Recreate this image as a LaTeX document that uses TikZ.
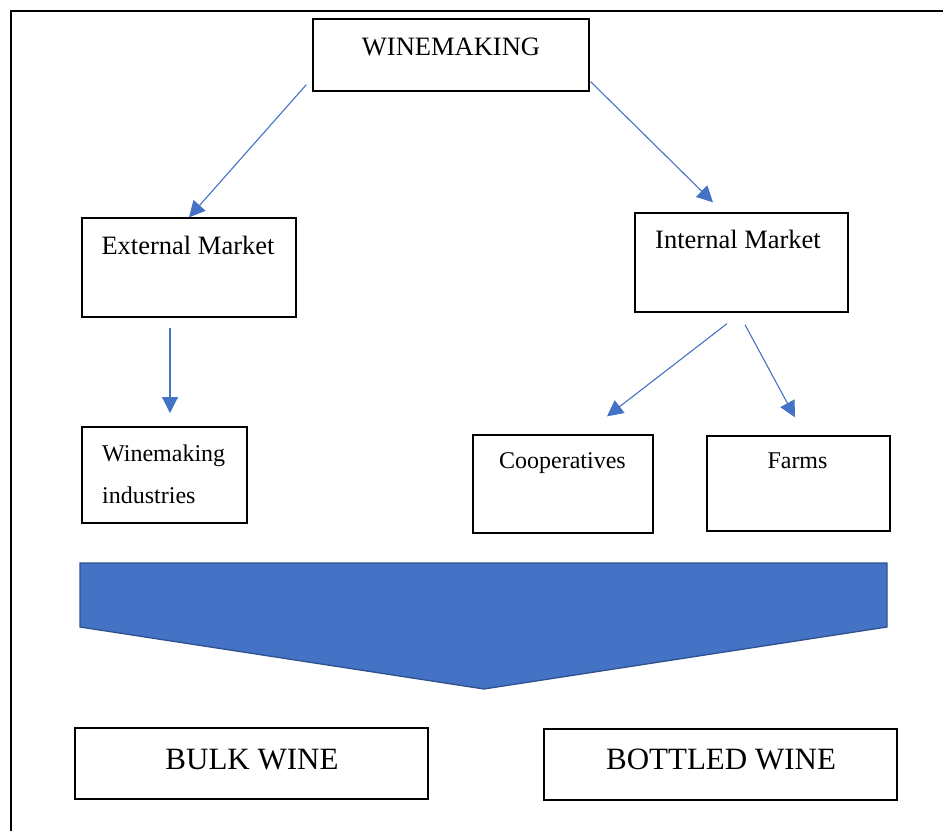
\documentclass[tikz,border=0pt]{standalone}
\usepackage{fontspec}
\setmainfont{Liberation Serif}
\usepackage{xcolor}
\usetikzlibrary{arrows.meta,calc}
\definecolor{wblue}{HTML}{4472C4}
\definecolor{wedge}{HTML}{2F528F}

\begin{document}
\begin{tikzpicture}[line join=miter,x=1pt,y=-1pt,
  box/.style={draw,line width=1.3pt,inner sep=0pt},
  bigtxt/.style={inner sep=0pt,anchor=base,font=\fontsize{26.5}{30}\selectfont},
  midtxt/.style={inner sep=0pt,anchor=base,font=\fontsize{24}{42}\selectfont},
  hugetxt/.style={inner sep=0pt,anchor=base,font=\fontsize{31}{36}\selectfont},
  arr/.style={draw=wblue,line width=1.1pt,-{Triangle[length=16pt,width=16pt]}}]
\useasboundingbox (0,0) rectangle (943,831);
\draw [line width=2pt] (11,831) -- (11,11) -- (943,11);
% boxes
\node[box,minimum width=276pt,minimum height=72pt] (win) at (451,55) {};
\node[box,minimum width=214pt,minimum height=99pt] (ext) at (189,267.5) {};
\node[box,minimum width=213pt,minimum height=99pt] (int) at (741.5,262.5) {};
\node[box,line width=2pt,minimum width=165pt,minimum height=96pt] (ind) at (164.5,475) {};
\node[box,minimum width=180pt,minimum height=98pt] (coop) at (563,484) {};
\node[box,minimum width=183pt,minimum height=95pt] (farm) at (798.5,483.5) {};
\node[box,minimum width=353pt,minimum height=71pt] (bulk) at (251.5,763.5) {};
\node[box,minimum width=353pt,minimum height=71pt] (bott) at (720.5,764.5) {};
% texts
\node[bigtxt] (winT) at (451,55) {WINEMAKING};
\node[bigtxt] (extT) at (188,254) {External Market};
\node[bigtxt] (intT) at (738,248) {Internal Market};
\node[midtxt,anchor=base west,align=left] (indT) at (102,503) {Winemaking\\industries};
\node[midtxt] (coopT) at (562.5,468) {Cooperatives};
\node[midtxt] (farmT) at (797.5,468) {Farms};
\node[hugetxt] (bulkT) at (252,769) {BULK WINE};
\node[hugetxt] (bottT) at (721,769) {BOTTLED WINE};
% arrows
\draw[arr] ([shift={(-6,-7)}]win.south west) -- (ext.north);
\draw[arr] ([shift={(1,-10)}]win.south east) -- ([shift={(-28.5,-10)}]int.north);
\draw[arr] ([shift={(-19,10)}]ext.south) -- ([shift={(5.5,-13)}]ind.north);
\draw[arr] ([shift={(-14.5,11)}]int.south) -- ([shift={(44,-18)}]coop.north);
\draw[arr] ([shift={(3.5,12)}]int.south) -- ([shift={(-3.5,-18)}]farm.north);
% big blue arrow
\draw[line width=1.3pt,draw=wedge,fill=wblue] (80,563) -- (887,563) -- (887,627) -- (484,689) -- (80,627) -- cycle;
\end{tikzpicture}
\end{document}
